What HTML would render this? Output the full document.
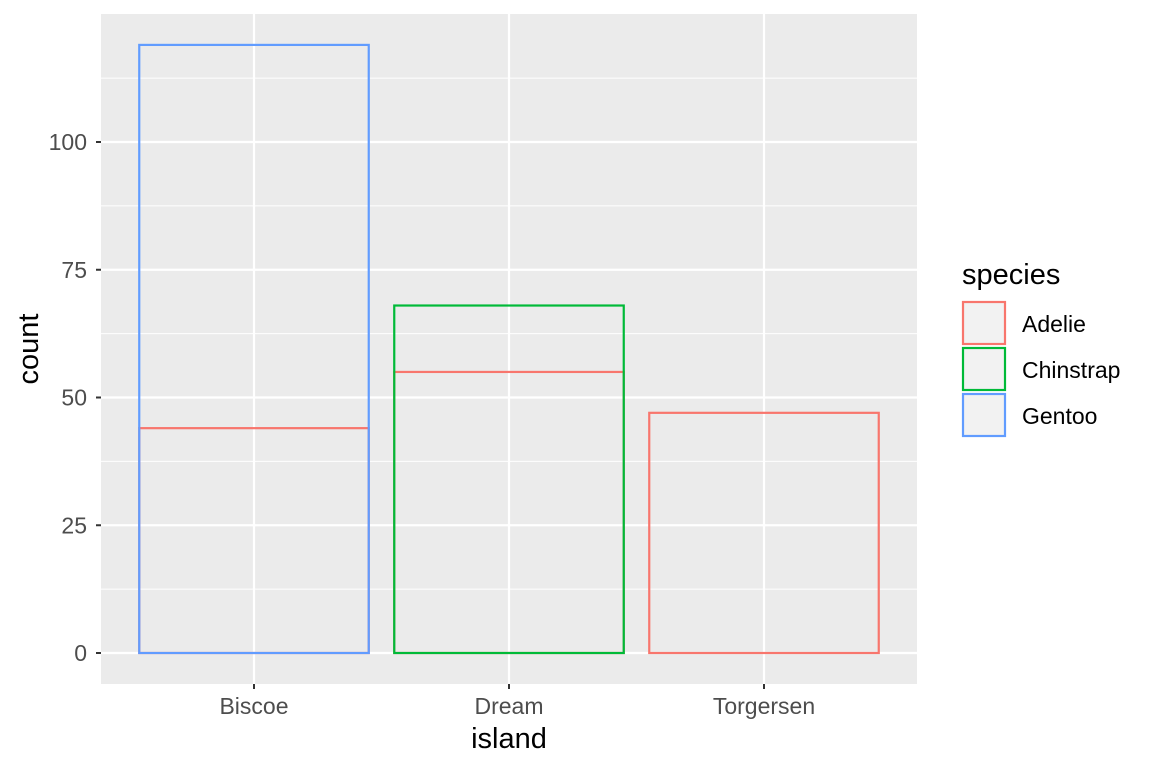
<!DOCTYPE html>
<html><head><meta charset="utf-8"><style>
body{margin:0;background:#fff;}
svg{display:block;font-family:"Liberation Sans",Arial,sans-serif;}
</style></head><body>
<svg id="chart" width="1152" height="768">
<rect x="0" y="0" width="1152" height="768" fill="#fff"/>
<rect x="101" y="14" width="816" height="670" fill="#EBEBEB"/>
<g id="grid"></g><g id="bars"></g><g id="axes"></g>
<text x="509" y="748" font-size="29" text-anchor="middle" fill="#000">island</text>
<text x="0" y="0" font-size="29" text-anchor="middle" fill="#000" transform="translate(38,349) rotate(-90)">count</text>
<g>
<text x="962" y="284" font-size="29" fill="#000">species</text>
<g id="legend"></g>
</g>
</svg>
<script>
const islands = ["Biscoe","Dream","Torgersen"];
const species = ["Adelie","Chinstrap","Gentoo"];
const colors = ["#F8766D","#00BA38","#619CFF"];
const adelie = [44,55,47];
const chinstrap = [0,68,0];
const gentoo = [119,0,0];
const yTicks = [0,25,50,75,100];
const NS="http://www.w3.org/2000/svg";
const px0=101,px1=917,py0=14,py1=684;
const y=v=>653-v*5.11;
const step=(px1-px0)/3.2;
const x=i=>px0+step*(i+0.6);
function mk(tag,attrs,parent){const e=document.createElementNS(NS,tag);for(const k in attrs)e.setAttribute(k,attrs[k]);parent.appendChild(e);return e;}
const grid=document.getElementById('grid'),bars=document.getElementById('bars'),axes=document.getElementById('axes'),legend=document.getElementById('legend');
for(let i=0;i<yTicks.length-1;i++){const v=(yTicks[i]+yTicks[i+1])/2;
const l=mk('line',{x1:px0,x2:px1,y1:y(v),y2:y(v),stroke:'#fff','stroke-width':1},grid);

}
{const v=112.5;const l=mk('line',{x1:px0,x2:px1,y1:y(v),y2:y(v),stroke:'#fff','stroke-width':1},grid);

}
yTicks.forEach(v=>{const l=mk('line',{x1:px0,x2:px1,y1:y(v),y2:y(v),stroke:'#fff','stroke-width':2.2},grid);


const t=mk('line',{x1:px0-5,x2:px0,y1:y(v),y2:y(v),stroke:'#333','stroke-width':2},axes);


const tx=mk('text',{x:px0-14,y:y(v)+8,'font-size':23,'text-anchor':'end',fill:'#4D4D4D'},axes);tx.textContent=v;

});
islands.forEach((n,i)=>{const l=mk('line',{x1:x(i),x2:x(i),y1:py0,y2:py1,stroke:'#fff','stroke-width':2.2},grid);


const t=mk('line',{x1:x(i),x2:x(i),y1:py1,y2:py1+5,stroke:'#333','stroke-width':2},axes);


const tx=mk('text',{x:x(i),y:py1+30,'font-size':23,'text-anchor':'middle',fill:'#4D4D4D'},axes);tx.textContent=n;

});
const series=[adelie,chinstrap,gentoo];
const bw=step*0.9;
series.forEach((s,si)=>s.forEach((v,i)=>{if(!v)return;
const r=mk('rect',{x:x(i)-bw/2,y:y(v),width:bw,height:y(0)-y(v),fill:'none',stroke:colors[si],'stroke-width':2.2},bars);

}));
species.forEach((s,i)=>{const yy=302+i*46;
const b=mk('rect',{x:963,y:yy,width:42,height:42,fill:'#F2F2F2',stroke:colors[i],'stroke-width':2.2},legend);


const t=mk('text',{x:1022,y:yy+30,'font-size':23,fill:'#000'},legend);t.textContent=s;

});
</script>
</body></html>
